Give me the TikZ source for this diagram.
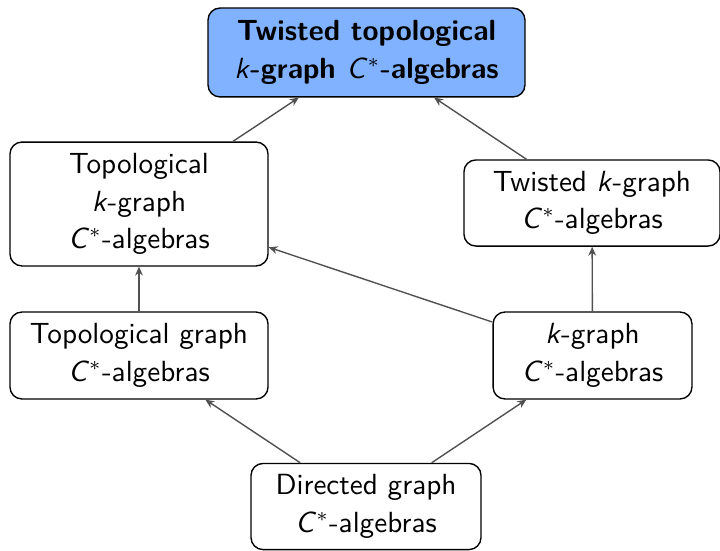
\documentclass[tikz,border=0pt]{standalone}
\usetikzlibrary{arrows.meta}
\definecolor{cblue}{HTML}{80B2FF}
\definecolor{cgrey}{HTML}{505050}
\newcommand{\kk}{\textit{k}}
\newcommand{\cstar}{\textit{C}$^{*}$}
\tikzset{
  every picture/.style={font=\sffamily\fontsize{10.5}{13.5}\selectfont},
  box/.style={draw=black, line width=0.5pt, rounded corners=4.3pt, align=center, inner sep=2pt},
  topbox/.style={box, fill=cblue, font=\sffamily\bfseries\fontsize{10.5}{13.5}\selectfont},
  arrow/.style={-{Stealth[length=3.2pt, width=2.8pt]}, draw=cgrey, line width=0.5pt},
}

\begin{document}
\begin{tikzpicture}[x=0.36pt, y=-0.36pt]
  \useasboundingbox (0,0) rectangle (720,550);
  % target
  \node[topbox, minimum width=114.1pt, minimum height=32pt] (ttk) at (366.5,52.5) {Twisted topological\\\textmd{\kk}-graph \textmd{\cstar}-algebras};
  % middle row
  \node[box, minimum width=92.9pt, minimum height=44.6pt] (tk) at (139,204) {Topological\\\kk-graph\\\cstar-algebras};
  \node[box, minimum width=92.2pt, minimum height=31pt] (twk) at (592,203) {Twisted \kk-graph\\\cstar-algebras};
  % lower row
  \node[box, minimum width=92.9pt, minimum height=31.3pt] (tg) at (139,355.5) {Topological graph\\\cstar-algebras};
  \node[box, minimum width=71.6pt, minimum height=31.3pt] (kg) at (592.5,355.5) {\kk-graph\\\cstar-algebras};
  % source
  \node[box, minimum width=82.8pt, minimum height=31pt] (dg) at (366,506.5) {Directed graph\\\cstar-algebras};
  \foreach \from/\to in {dg/tg, dg/kg, tg/tk, kg/tk, kg/twk, tk/ttk, twk/ttk}
    \draw[arrow] (\from) -- (\to);
\end{tikzpicture}
\end{document}
